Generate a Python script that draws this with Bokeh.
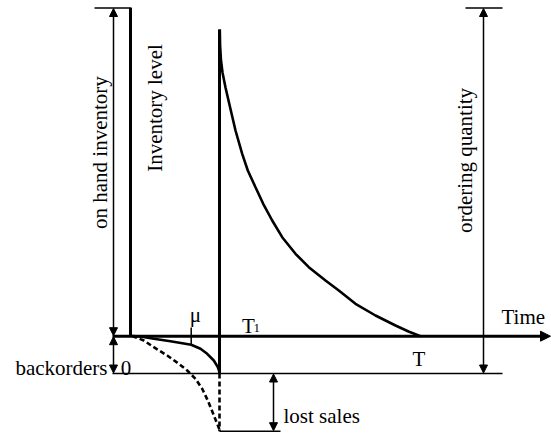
from bokeh.plotting import figure
from bokeh.models import Range1d, Label, Arrow, NormalHead
from bokeh.embed import file_html
from bokeh.resources import INLINE

# ---- diagram data (horizontal = time, vertical = inventory, y grows downward) ----
t_start = 130.0      # start of cycle (inventory level axis)
t1 = 219.0           # T1
axis_left = 112.0
axis_right = 550.0
level_top = 7.5      # top bracket
level_peak = 29.0    # on-hand inventory at T1
level_zero = 335.7   # zero inventory
level_back = 373.0   # maximum backorders
level_lost = 430.7   # backorders incl. lost sales

# on-hand inventory depletion curve (T1 -> T)
onhand_x = [219.3, 219.6, 220.5, 222, 225, 228, 231.5, 235, 241.7, 247.3, 255, 262.7,
            271.7, 281.7, 295, 308.3, 325, 338.3, 355, 375, 395, 408, 420]
onhand_y = [29, 45, 60, 72, 87, 100, 115, 130, 153.3, 170, 186.7, 203.3,
            220, 236.7, 253.3, 266.7, 280, 290, 303.3, 315, 325, 331, 335.7]

# backorder curve (solid)
back_x = [131.7, 140, 153.3, 170, 190.7, 200, 206.7, 213.3, 217.3, 219.3]
back_y = [335.5, 336, 338.3, 340.7, 344.3, 348.3, 353.3, 360, 366.7, 372.7]

# backorders + lost sales curve (dashed)
lost_x = [131.7, 143.3, 153.3, 166.7, 178.3, 186.7, 195, 201.7, 207.3, 212.7, 216.7, 219.3]
lost_y = [335.5, 340, 346.7, 355, 363.3, 370, 378.3, 388.3, 400, 413.3, 423.3, 430]

mu_x = 190.7
mu_tick = [327, 344.3]

bracket_left_x = [94, 131]
bracket_right_x = [465, 502]
floor_back_x = [112, 502]
floor_lost_x = [219, 280]

arrow_onhand_x = 113
arrow_lost_x = 273
arrow_order_x = 483

FONT = "Liberation Serif"
FS = "21px"

p = figure(width=551, height=433, output_backend="svg", toolbar_location=None,
           x_range=Range1d(0, 551), y_range=Range1d(433, 0), min_border=0)
p.axis.visible = False
p.grid.visible = False
p.outline_line_color = None
p.background_fill_color = "white"
p.border_fill_color = "white"

K = "black"
# thick lines
p.line([t_start, t_start], [level_top, level_zero], line_width=3, line_color=K)
p.line([t1, t1], [level_peak, level_back], line_width=3, line_color=K)
p.line(onhand_x, onhand_y, line_width=2.6, line_color=K)
p.line(back_x, back_y, line_width=2.6, line_color=K)
p.line(lost_x, lost_y, line_width=2.6, line_color=K, line_dash="5 3")
p.line([t1, t1], [level_back, level_lost], line_width=2.6, line_color=K, line_dash="5 3")

# thin lines
p.line(bracket_left_x, [level_top, level_top], line_width=1.5, line_color=K)
p.line(bracket_right_x, [level_top, level_top], line_width=1.5, line_color=K)
p.line(floor_back_x, [level_back, level_back], line_width=1.5, line_color=K)
p.line(floor_lost_x, [level_lost, level_lost], line_width=1.5, line_color=K)
p.line([mu_x, mu_x], mu_tick, line_width=1.5, line_color=K)

def head(size=8):
    return NormalHead(size=size, fill_color=K, line_color=K, line_width=1)

# time axis
p.add_layout(Arrow(x_start=axis_left, y_start=level_zero, x_end=axis_right, y_end=level_zero,
                   line_width=3, line_color=K, end=head(10)))
# double arrows
for xs, y0, y1 in [(arrow_onhand_x, level_top, level_zero),
                   (arrow_onhand_x, level_zero, level_back),
                   (arrow_lost_x, level_back, level_lost),
                   (arrow_order_x, level_top, level_back)]:
    p.add_layout(Arrow(x_start=xs, y_start=y0 + 0.5, x_end=xs, y_end=y1 - 0.5,
                       line_width=1.5, line_color=K, start=head(), end=head()))

def lab(x, y, text, align="left", angle=0.0, size=FS, baseline="alphabetic"):
    p.add_layout(Label(x=x, y=y, text=text, text_font=FONT, text_font_size=size,
                       text_align=align, text_baseline=baseline, angle=angle,
                       angle_units="deg", text_color=K))

lab(99, 149.5, "on hand  inventory", align="center", angle=90)
lab(154, 107.5, "Inventory level", align="center", angle=90)
lab(464, 160, "ordering quantity", align="center", angle=90)
lab(501, 316.7, "Time")
lab(241.5, 325, "T")
lab(253, 327.5, "1", size="13px")
lab(418.5, 358, "T", align="center")
lab(125.5, 367, "0", align="center")
lab(107, 367, "backorders", align="right")
lab(195, 314.5, "μ", align="center")
lab(283, 415, "lost sales")

open("out.html", "w").write(file_html(p, INLINE))
